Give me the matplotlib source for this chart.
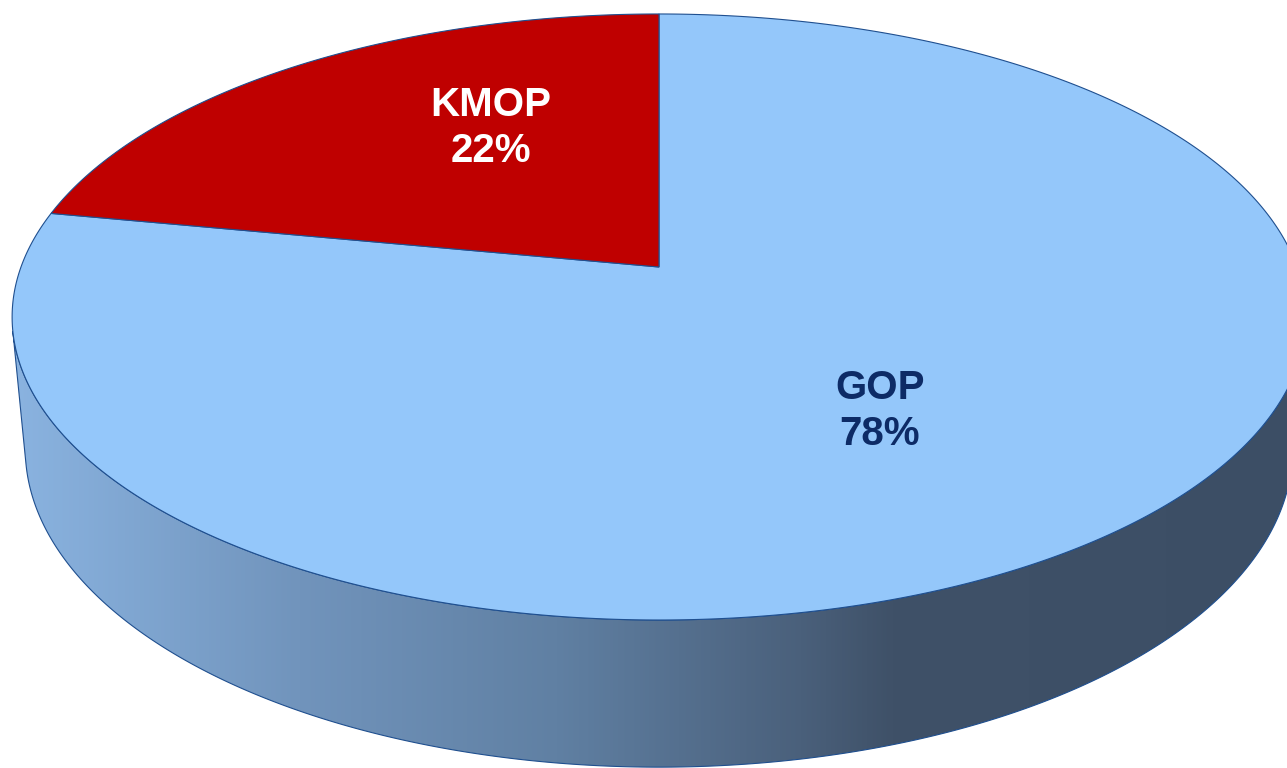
import numpy as np
import matplotlib
matplotlib.use("Agg")
import matplotlib.pyplot as plt
from matplotlib.patches import Polygon
from matplotlib.colors import LinearSegmentedColormap

# ---- data ----
categories = ["GOP", "KMOP"]
values = [78, 22]
pct_labels = ["78%", "22%"]

# ---- style ----
face_colors = ["#94C7FA", "#BF0000"]
text_colors = ["#0D2B66", "#FFFFFF"]
edge_color = "#1F4F8F"
side_stops = [(0.00, "#8AB3E0"), (0.22, "#7194BC"), (0.42, "#6080A3"),
              (0.61, "#4A607B"), (0.68, "#3F5168"), (1.00, "#3C4E65")]

# ---- 3D perspective camera (layout) ----
W, H = 1287, 768
S0x, S0y = 659.0, 267.0
sa = 0.462
alpha = np.arcsin(sa)
ca = np.cos(alpha)
d = 5.376
F = 3430.0
h = 0.235
start_angle = 88.5


def project(X, Y, Z):
    depth = d - Y * ca - Z * sa
    sx = S0x + F * X / depth
    sy = S0y - F * (-Y * sa + Z * ca) / depth
    return sx, sy


def rim(theta_deg, Z):
    t = np.radians(theta_deg)
    return project(np.cos(t), -np.sin(t), Z)


fig = plt.figure(figsize=(W / 100, H / 100), dpi=100)
ax = fig.add_axes([0, 0, 1, 1])
ax.set_xlim(0, W)
ax.set_ylim(H, 0)
ax.axis("off")

# side wall (visible front portion, between silhouette angles)
s = -1.0 / (d * ca)
t_sil = np.degrees(np.arcsin(s))
th = np.linspace(180 - t_sil, 360 + t_sil, 400)
tx, ty = rim(th, 0.0)
bx, by = rim(th[::-1], -h)
side_xy = np.column_stack([np.concatenate([tx, bx]), np.concatenate([ty, by])])
side = Polygon(side_xy, closed=True, facecolor="none", edgecolor=edge_color,
               lw=0.8, zorder=2)
ax.add_patch(side)
cmap = LinearSegmentedColormap.from_list("side", side_stops)
grad = np.linspace(0, 1, 512)[None, :]
xmin, xmax = side_xy[:, 0].min(), side_xy[:, 0].max()
img = ax.imshow(grad, cmap=cmap, extent=[xmin, xmax, H, 0], aspect="auto",
                zorder=1, interpolation="bilinear")
img.set_clip_path(side)

# top face wedges (clockwise from 12 o'clock)
total = float(sum(values))
start = 90.0
for i, (val, fc) in enumerate(zip(values, face_colors)):
    sweep = 360.0 * val / total
    th = np.linspace(start, start - sweep, 600)
    ax_, ay_ = rim(th, 0.0)
    cx, cy = project(0.0, 0.0, 0.0)
    xy = np.column_stack([np.concatenate([[cx], ax_]), np.concatenate([[cy], ay_])])
    ax.add_patch(Polygon(xy, closed=True, facecolor=fc, edgecolor=edge_color,
                         lw=0.8, zorder=3, joinstyle="miter"))
    start -= sweep

ax.set_xlim(0, W)
ax.set_ylim(H, 0)

# labels (layout positions in screen pixels)
label_pos = [(880, 411), (491, 128)]
for cat, pct, tc, (lx, ly) in zip(categories, pct_labels, text_colors, label_pos):
    ax.text(lx, ly, f"{cat}\n{pct}", color=tc, fontsize=29, fontweight="bold",
            family="Liberation Sans", ha="center", va="center",
            linespacing=1.28, zorder=5)

fig.savefig("out.png", dpi=100)
